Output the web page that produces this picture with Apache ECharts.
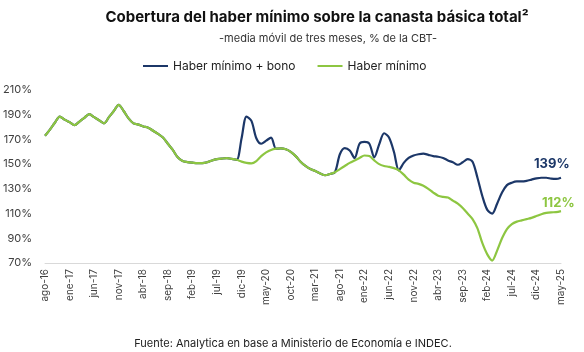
<!DOCTYPE html>
<html>
<head>
<meta charset="utf-8">
<script src="https://cdn.jsdelivr.net/npm/echarts@6/dist/echarts.min.js"></script>
<style>
  html, body { margin: 0; padding: 0; background: #fff; }
  #container { width: 584px; height: 352px; }
</style>
</head>
<body>
<div id="container"></div>
<script>
var months = [
    'ago-16', 'sep-16', 'oct-16', 'nov-16', 'dic-16',
    'ene-17', 'feb-17', 'mar-17', 'abr-17', 'may-17', 'jun-17', 'jul-17', 'ago-17', 'sep-17', 'oct-17', 'nov-17', 'dic-17',
    'ene-18', 'feb-18', 'mar-18', 'abr-18', 'may-18', 'jun-18', 'jul-18', 'ago-18', 'sep-18', 'oct-18', 'nov-18', 'dic-18',
    'ene-19', 'feb-19', 'mar-19', 'abr-19', 'may-19', 'jun-19', 'jul-19', 'ago-19', 'sep-19', 'oct-19', 'nov-19', 'dic-19',
    'ene-20', 'feb-20', 'mar-20', 'abr-20', 'may-20', 'jun-20', 'jul-20', 'ago-20', 'sep-20', 'oct-20', 'nov-20', 'dic-20',
    'ene-21', 'feb-21', 'mar-21', 'abr-21', 'may-21', 'jun-21', 'jul-21', 'ago-21', 'sep-21', 'oct-21', 'nov-21', 'dic-21',
    'ene-22', 'feb-22', 'mar-22', 'abr-22', 'may-22', 'jun-22', 'jul-22', 'ago-22', 'sep-22', 'oct-22', 'nov-22', 'dic-22',
    'ene-23', 'feb-23', 'mar-23', 'abr-23', 'may-23', 'jun-23', 'jul-23', 'ago-23', 'sep-23', 'oct-23', 'nov-23', 'dic-23',
    'ene-24', 'feb-24', 'mar-24', 'abr-24', 'may-24', 'jun-24', 'jul-24', 'ago-24', 'sep-24', 'oct-24', 'nov-24', 'dic-24',
    'ene-25', 'feb-25', 'mar-25', 'abr-25', 'may-25'
];

// haber minimo + bono (% de la CBT)
var haberBono = [
    173, 178, 183.5, 188.5, 186,
    184, 181.5, 184.5, 187.5, 190.5, 188, 185.5, 183, 188, 193, 198, 193,
    187, 183, 182, 180.5, 179.5, 177, 174.5, 171.5, 166.5, 161.5, 155.5, 152.5,
    151.7, 151.2, 150.8, 150.8, 151.5, 153, 154, 154.5, 154.8, 154.3, 153.5, 171,
    188.5, 185, 171, 166.5, 169, 171.5, 162.5, 162.8, 162, 160, 156.5, 152,
    148.5, 146, 144.5, 142.5, 141, 142, 143.5, 158, 163, 161, 155, 166.5,
    168, 166.5, 155.5, 166, 175, 171.5, 160, 145, 151, 155, 157, 158,
    158.5, 157.5, 156.5, 156, 155, 153, 151.5, 149.5, 151.5, 154, 152, 139,
    124, 113, 110, 118, 127, 133, 135, 136, 136, 136.5, 137.5, 138.5,
    139, 139, 138.3, 138, 139
];

// haber minimo (% de la CBT)
var haberMinimo = [
    173, 178, 183.5, 188.5, 186,
    184, 181.5, 184.5, 187.5, 190.5, 188, 185.5, 183, 188, 193, 198, 193,
    187, 183, 182, 180.5, 179.5, 177, 174.5, 171.5, 166.5, 161.5, 155.5, 152.5,
    151.7, 151.2, 150.8, 150.8, 151.5, 153, 154, 154.5, 154.8, 154.3, 153.5, 152,
    151, 150.6, 152.5, 156.5, 159.5, 161.5, 162.5, 162.8, 162, 160, 156.5, 152,
    148.5, 146, 144.5, 142.5, 141, 142, 143.5, 146, 148.5, 151, 153, 155,
    157, 156.5, 153, 150, 148.5, 147.8, 146.8, 145, 141.5, 137.5, 135, 134,
    132.5, 130, 127, 124.5, 123.5, 123, 120.5, 118, 114.5, 110, 105.5, 98,
    86, 77, 72, 80, 90, 97.5, 101.5, 103.5, 104.5, 105.5, 106.5, 108,
    109.5, 110.5, 111, 111.2, 112
];

var navy = '#1c3768';
var green = '#8dc641';
var fontFamily = 'Inter, "Noto Sans", sans-serif';

var chartDom = document.getElementById('container');
var myChart = echarts.init(chartDom, null, { renderer: 'canvas' });
var option;

option = {
    animation: false,
    backgroundColor: '#ffffff',
    title: [
        {
            text: 'Cobertura del haber mínimo sobre la canasta básica total²',
            left: 312,
            top: 5,
            textAlign: 'center',
            textStyle: {
                fontFamily: fontFamily,
                fontSize: 15,
                fontWeight: 'bold',
                color: '#111'
            }
        },
        {
            text: '-media móvil de tres meses, % de la CBT-',
            left: 323,
            top: 28,
            textAlign: 'center',
            textStyle: {
                fontFamily: fontFamily,
                fontSize: 11,
                fontWeight: 'normal',
                color: '#333'
            }
        },
        {
            text: 'Fuente: Analytica en base a Ministerio de Economía e INDEC.',
            left: 288,
            top: 333,
            textAlign: 'center',
            textStyle: {
                fontFamily: fontFamily,
                fontSize: 11,
                fontWeight: 'normal',
                color: '#222'
            }
        }
    ],
    legend: {
        top: 55,
        left: 138,
        orient: 'horizontal',
        icon: 'rect',
        itemWidth: 25,
        itemHeight: 2,
        itemGap: 22,
        textStyle: {
            fontFamily: fontFamily,
            fontSize: 12,
            color: '#222'
        },
        data: ['Haber mínimo + bono', 'Haber mínimo']
    },
    grid: {
        left: 37,
        right: 23,
        top: 90,
        bottom: 89
    },
    xAxis: {
        type: 'category',
        boundaryGap: false,
        data: months,
        axisLine: { lineStyle: { color: '#d9d9d9', width: 1 } },
        axisTick: { show: false },
        axisLabel: {
            interval: 4,
            rotate: 90,
            margin: 6,
            fontFamily: fontFamily,
            fontSize: 10,
            color: '#404040'
        }
    },
    yAxis: {
        type: 'value',
        min: 70,
        max: 210,
        interval: 20,
        axisLine: { show: false },
        axisTick: { show: false },
        splitLine: { show: false },
        axisLabel: {
            margin: 13,
            formatter: '{value}%',
            fontFamily: fontFamily,
            fontSize: 11,
            color: '#404040'
        }
    },
    series: [
        {
            name: 'Haber mínimo + bono',
            type: 'line',
            smooth: 0.3,
            symbol: 'none',
            lineStyle: { color: navy, width: 2.2 },
            itemStyle: { color: navy },
            endLabel: {
                show: true,
                formatter: function (p) { return Math.round(p.value) + '%'; },
                align: 'left',
                verticalAlign: 'middle',
                offset: [-35, -14],
                fontFamily: fontFamily,
                fontSize: 13,
                fontWeight: 'bold',
                color: navy
            },
            data: haberBono
        },
        {
            name: 'Haber mínimo',
            type: 'line',
            smooth: 0.3,
            symbol: 'none',
            lineStyle: { color: green, width: 2.2 },
            itemStyle: { color: green },
            endLabel: {
                show: true,
                formatter: function (p) { return Math.round(p.value) + '%'; },
                align: 'left',
                verticalAlign: 'middle',
                offset: [-27, -8],
                fontFamily: fontFamily,
                fontSize: 13,
                fontWeight: 'bold',
                color: green
            },
            data: haberMinimo
        }
    ]
};

option && myChart.setOption(option);
</script>
</body>
</html>
